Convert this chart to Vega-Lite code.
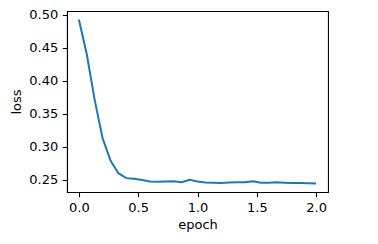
{
  "$schema": "https://vega.github.io/schema/vega-lite/v6.json",
  "width": 261,
  "height": 181,
  "autosize": {"type": "none"},
  "padding": {"left": 67, "top": 11, "right": 50, "bottom": 52},
  "background": "white",
  "config": {
    "font": "DejaVu Sans",
    "view": {"stroke": "black", "strokeWidth": 1.07},
    "axis": {
      "grid": false,
      "domainColor": "black",
      "domainWidth": 1.07,
      "tickColor": "black",
      "tickWidth": 1.07,
      "tickSize": 4.7,
      "labelFont": "DejaVu Sans",
      "labelFontSize": 13,
      "labelColor": "black",
      "labelPadding": 4.5,
      "titleFont": "DejaVu Sans",
      "titleFontSize": 13,
      "titleFontWeight": "normal",
      "titleColor": "black"
    }
  },
  "data": {
    "values": [
      {"epoch": 0.0, "loss": 0.4925},
      {"epoch": 0.0667, "loss": 0.440},
      {"epoch": 0.1333, "loss": 0.371},
      {"epoch": 0.2, "loss": 0.313},
      {"epoch": 0.2667, "loss": 0.279},
      {"epoch": 0.3333, "loss": 0.260},
      {"epoch": 0.4, "loss": 0.2525},
      {"epoch": 0.4667, "loss": 0.2515},
      {"epoch": 0.5333, "loss": 0.2495},
      {"epoch": 0.6, "loss": 0.2475},
      {"epoch": 0.6667, "loss": 0.2472},
      {"epoch": 0.7333, "loss": 0.2475},
      {"epoch": 0.8, "loss": 0.2478},
      {"epoch": 0.8667, "loss": 0.2462},
      {"epoch": 0.9333, "loss": 0.2500},
      {"epoch": 1.0, "loss": 0.2475},
      {"epoch": 1.0667, "loss": 0.2460},
      {"epoch": 1.1333, "loss": 0.2455},
      {"epoch": 1.2, "loss": 0.2450},
      {"epoch": 1.2667, "loss": 0.2458},
      {"epoch": 1.3333, "loss": 0.2462},
      {"epoch": 1.4, "loss": 0.2462},
      {"epoch": 1.4667, "loss": 0.2478},
      {"epoch": 1.5333, "loss": 0.2455},
      {"epoch": 1.6, "loss": 0.2455},
      {"epoch": 1.6667, "loss": 0.2462},
      {"epoch": 1.7333, "loss": 0.2455},
      {"epoch": 1.8, "loss": 0.2450},
      {"epoch": 1.8667, "loss": 0.2450},
      {"epoch": 1.9333, "loss": 0.2448},
      {"epoch": 2.0, "loss": 0.2445}
    ]
  },
  "mark": {"type": "line", "color": "#1f77b4", "strokeWidth": 2},
  "encoding": {
    "x": {
      "field": "epoch",
      "type": "quantitative",
      "scale": {"domain": [-0.1, 2.1], "nice": false, "zero": false},
      "axis": {"values": [0, 0.5, 1, 1.5, 2], "format": ".1f", "title": "epoch", "titlePadding": 4}
    },
    "y": {
      "field": "loss",
      "type": "quantitative",
      "scale": {"domain": [0.2315, 0.5055], "nice": false, "zero": false},
      "axis": {"values": [0.25, 0.3, 0.35, 0.4, 0.45, 0.5], "format": ".2f", "title": "loss", "titlePadding": 5}
    }
  }
}
